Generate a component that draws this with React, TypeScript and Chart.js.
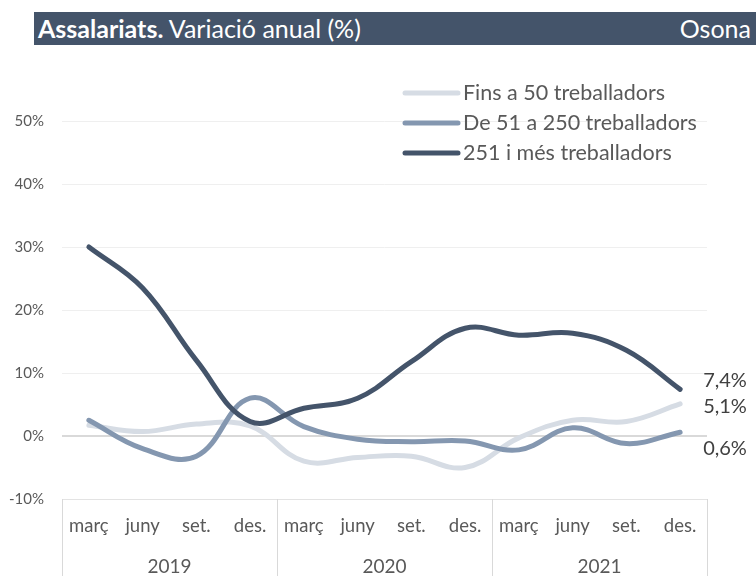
import React, { useEffect, useRef } from "react";
import { Chart, registerables } from "chart.js";

Chart.register(...registerables);

const months = ["març", "juny", "set.", "des.", "març", "juny", "set.", "des.", "març", "juny", "set.", "des."];
const years = ["2019", "2020", "2021"];
const seriesNames = ["Fins a 50 treballadors", "De 51 a 250 treballadors", "251 i més treballadors"];
const small = [1.7, 0.7, 1.9, 1.6, -4.0, -3.4, -3.2, -5.0, -0.3, 2.5, 2.3, 5.1];
const medium = [2.5, -2.0, -3.2, 6.0, 1.5, -0.5, -0.9, -0.8, -2.2, 1.3, -1.2, 0.6];
const large = [30.0, 23.5, 12.0, 2.3, 4.4, 6.0, 11.8, 17.1, 16.0, 16.3, 13.6, 7.4];
const yTicks = [-10, 0, 10, 20, 30, 40, 50];
const colors = ["#D6DCE4", "#8497B0", "#44546A"];

const FONT = "Lato, 'Noto Sans', sans-serif";

const fmt = (v: number) => v.toFixed(1).replace(".", ",") + "%";

export default function App() {
  const ref = useRef<HTMLCanvasElement>(null);

  useEffect(() => {
    const canvas = ref.current;
    if (!canvas) return;
    const allSeries = [small, medium, large];

    const customPlugin = {
      id: "custom",
      afterDraw(chart: any) {
        const { ctx, chartArea, scales } = chart;
        const xs = scales.x;
        const ys = scales.y;
        const H = chart.height;
        ctx.save();
        // separators
        ctx.strokeStyle = "#D9D9D9";
        ctx.lineWidth = 1;
        const bounds = [chartArea.left];
        for (let g = 1; g < years.length; g++) {
          const i = g * 4;
          bounds.push((xs.getPixelForValue(i - 1) + xs.getPixelForValue(i)) / 2);
        }
        bounds.push(chartArea.right);
        bounds.forEach((bx) => {
          const x = Math.round(bx) + 0.5;
          ctx.beginPath();
          ctx.moveTo(x, chartArea.bottom);
          ctx.lineTo(x, H);
          ctx.stroke();
        });
        // month labels
        ctx.fillStyle = "#595959";
        ctx.font = `18.5px ${FONT}`;
        ctx.textAlign = "center";
        ctx.textBaseline = "middle";
        months.forEach((m, i) => {
          ctx.fillText(m, xs.getPixelForValue(i), chartArea.bottom + 27);
        });
        ctx.font = `19px ${FONT}`;
        years.forEach((y, g) => {
          const cx = (bounds[g] + bounds[g + 1]) / 2;
          ctx.fillText(y, cx, chartArea.bottom + 68);
        });
        // end labels
        const offs = [3, 16, -9];
        ctx.fillStyle = "#404040";
        ctx.font = `20px ${FONT}`;
        ctx.textAlign = "left";
        allSeries.forEach((s, k) => {
          const last = s.length - 1;
          const px = xs.getPixelForValue(last);
          const py = ys.getPixelForValue(s[last]);
          ctx.fillText(fmt(s[last]), px + 23, py + offs[k]);
        });
        // legend
        ctx.font = `21.5px ${FONT}`;
        ctx.fillStyle = "#595959";
        seriesNames.forEach((n, k) => {
          const y = 93 + k * 30;
          ctx.strokeStyle = colors[k];
          ctx.lineWidth = 5;
          ctx.lineCap = "round";
          ctx.beginPath();
          ctx.moveTo(405, y);
          ctx.lineTo(458, y);
          ctx.stroke();
          ctx.fillText(n, 463, y);
        });
        ctx.restore();
      },
    };

    const chart = new Chart(canvas, {
      type: "line",
      data: {
        labels: months,
        datasets: allSeries.map((s, k) => ({
          label: seriesNames[k],
          data: s,
          borderColor: colors[k],
          backgroundColor: colors[k],
          borderWidth: 5,
          pointRadius: 0,
          tension: 0.4,
          fill: false,
          order: 2 - k,
          borderCapStyle: "round" as const,
        })),
      },
      options: {
        animation: false,
        responsive: false,
        devicePixelRatio: 1,
        layout: { padding: { top: 121, right: 49, bottom: 0, left: 0 } },
        plugins: { legend: { display: false }, tooltip: { enabled: false } },
        scales: {
          x: {
            type: "category",
            offset: true,
            grid: { display: false },
            ticks: { display: false },
            border: { display: true, color: "#E3E3E3", width: 1 },
            afterFit: (s: any) => {
              s.height = 77;
            },
          },
          y: {
            min: -10,
            max: 50,
            afterBuildTicks: (s: any) => {
              s.ticks = yTicks.map((v) => ({ value: v }));
            },
            ticks: {
              callback: (v: any) => v + "%",
              color: "#595959",
              font: { family: FONT, size: 15 },
              padding: 18,
            },
            grid: {
              drawTicks: false,
              color: (c: any) => (c.tick && c.tick.value === 0 ? "#D9D9D9" : c.tick && c.tick.value === -10 ? "rgba(0,0,0,0)" : "#EFEFEF"),
              lineWidth: (c: any) => (c.tick && c.tick.value === 0 ? 2 : 1),
            },
            border: { display: false },
            afterFit: (s: any) => {
              s.width = 62;
            },
          },
        },
      },
      plugins: [customPlugin],
    });
    return () => chart.destroy();
  }, []);

  return (
    <div style={{ position: "fixed", left: 0, top: 0, width: 756, height: 576, background: "#fff", overflow: "hidden" }}>
      <canvas ref={ref} width={756} height={576} style={{ position: "absolute", left: 0, top: 0, width: 756, height: 576 }} />
      <div
        style={{
          position: "absolute",
          left: 34,
          top: 12,
          width: 722,
          height: 33,
          background: "#44546A",
          color: "#fff",
          fontFamily: FONT,
          fontSize: 25,
          lineHeight: "33px",
          display: "flex",
          alignItems: "center",
          justifyContent: "space-between",
          padding: "0 5px 0 4px",
          boxSizing: "border-box",
          whiteSpace: "nowrap",
        }}
      >
        <span>
          <b>Assalariats.</b> Variació anual (%)
        </span>
        <span>Osona</span>
      </div>
    </div>
  );
}
